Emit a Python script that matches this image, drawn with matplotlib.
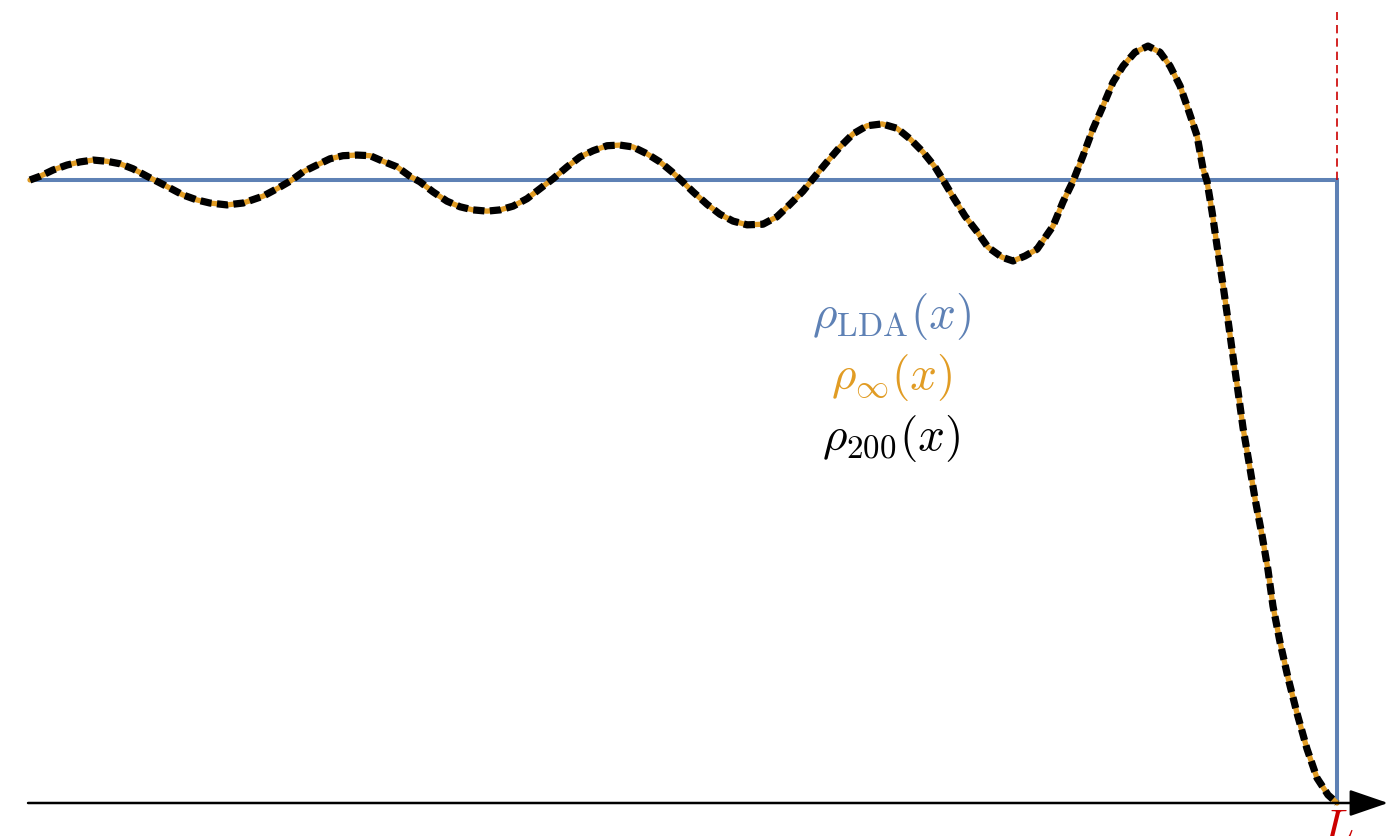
import numpy as np
import matplotlib
matplotlib.use("Agg")
import matplotlib.pyplot as plt

plt.rcParams["mathtext.fontset"] = "cm"

# density profile: x / L and rho / rho_LDA
x = [0.000, 0.0077, 0.0176, 0.0283, 0.0383, 0.0482, 0.0589, 0.0689, 0.0788, 0.0895,
     0.0979, 0.1071, 0.1170, 0.1277, 0.1377, 0.1507, 0.1630, 0.1783, 0.1890, 0.1989,
     0.2089, 0.2196, 0.2295, 0.2395, 0.2502, 0.2602, 0.2701, 0.2808, 0.2907, 0.2984,
     0.3083, 0.3190, 0.3290, 0.3389, 0.3497, 0.3596, 0.3696, 0.3803, 0.3902, 0.4002,
     0.4109, 0.4208, 0.4308, 0.4415, 0.4514, 0.4614, 0.4721, 0.4820, 0.4912, 0.4989,
     0.5073, 0.5180, 0.5279, 0.5379, 0.5486, 0.5608, 0.5715, 0.5815, 0.5914, 0.5991,
     0.6098, 0.6197, 0.6297, 0.6404, 0.6519, 0.6633, 0.6733, 0.6832, 0.6924, 0.6986,
     0.7062, 0.7154, 0.7246, 0.7330, 0.7437, 0.7521, 0.7613, 0.7705, 0.7827, 0.7904,
     0.7980, 0.8057, 0.8133, 0.8210, 0.8286, 0.8363, 0.8454, 0.8554, 0.8646, 0.8722,
     0.8799, 0.8860, 0.8929, 0.8975, 0.9005, 0.9044, 0.9082, 0.9128, 0.9166, 0.9204,
     0.9243, 0.9281, 0.9327, 0.9373, 0.9426, 0.9472, 0.9510, 0.9564, 0.9625, 0.9694,
     0.9770, 0.9847, 0.9931, 1.0000]
rho = [1.000, 1.006, 1.016, 1.024, 1.029, 1.032, 1.030, 1.026, 1.018, 1.006,
       0.997, 0.987, 0.976, 0.968, 0.963, 0.960, 0.963, 0.974, 0.986, 0.998,
       1.013, 1.024, 1.034, 1.039, 1.040, 1.039, 1.030, 1.021, 1.006, 0.997,
       0.981, 0.966, 0.957, 0.952, 0.950, 0.952, 0.958, 0.970, 0.986, 1.002,
       1.021, 1.037, 1.047, 1.055, 1.056, 1.053, 1.042, 1.029, 1.013, 0.998,
       0.981, 0.961, 0.945, 0.934, 0.928, 0.929, 0.941, 0.961, 0.982, 1.002,
       1.029, 1.053, 1.074, 1.087, 1.090, 1.083, 1.066, 1.045, 1.021, 1.000,
       0.973, 0.942, 0.917, 0.892, 0.876, 0.870, 0.878, 0.889, 0.926, 0.965,
       0.998, 1.039, 1.082, 1.119, 1.157, 1.183, 1.205, 1.215, 1.205, 1.183,
       1.151, 1.114, 1.071, 1.018, 0.998, 0.949, 0.894, 0.831, 0.775, 0.717,
       0.660, 0.602, 0.546, 0.488, 0.430, 0.374, 0.316, 0.258, 0.201, 0.144,
       0.087, 0.040, 0.013, 0.000]

L = 1.0
rho_lda = 1.0

BLUE = "#5e81b5"
ORANGE = "#e19c24"
RED = "#cc0000"

fig = plt.figure(figsize=(13.88, 8.37), dpi=100)
ax = fig.add_axes([0, 0, 1, 1])
ax.set_xlim(-0.02295, 1.0390)
ax.set_ylim(-0.05297, 1.2905)
ax.axis("off")

# LDA step profile
ax.plot([0, L, L], [rho_lda, rho_lda, 0], color=BLUE, lw=2.9, solid_joinstyle="miter")
# wall marker above the step
ax.plot([L, L], [rho_lda, 1.27], color=RED, lw=1.2, ls=(0, (5, 3)))

ax.plot(x, rho, color=ORANGE, lw=3.8, solid_capstyle="round")
ax.plot(x, rho, color="black", lw=5.2, ls=(0, (1.55, 0.75)), dash_capstyle="butt")

# x axis with arrow
ax.annotate("", xy=(1.0390, 0), xytext=(-0.0015, 0),
            arrowprops=dict(arrowstyle="-|>,head_length=1.6,head_width=0.55",
                            lw=1.8, color="black", mutation_scale=15,
                            shrinkA=0, shrinkB=0))
ax.text(L, -0.004, r"$L$", color=RED, fontsize=34, ha="center", va="top")

ax.text(0.659, 0.782, r"$\rho_{\mathrm{LDA}}(x)$", color=BLUE, fontsize=34, ha="center", va="center")
ax.text(0.659, 0.684, r"$\rho_{\infty}(x)$", color=ORANGE, fontsize=34, ha="center", va="center")
ax.text(0.659, 0.586, r"$\rho_{200}(x)$", color="black", fontsize=34, ha="center", va="center")

fig.savefig("out.png", dpi=100)
